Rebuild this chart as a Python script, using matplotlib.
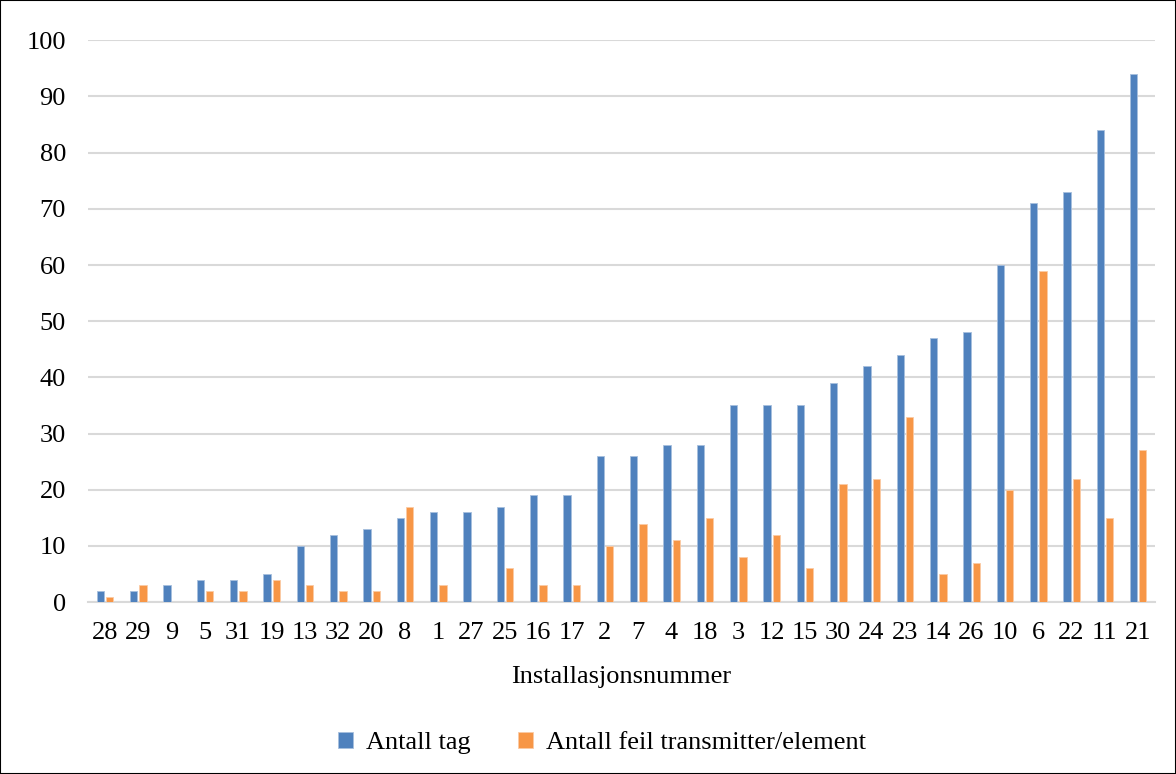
import numpy as np
import matplotlib.pyplot as plt
from matplotlib.patches import Rectangle

plt.rcParams['font.family'] = ['Liberation Serif', 'DejaVu Serif']

installasjoner = ['28', '29', '9', '5', '31', '19', '13', '32', '20', '8', '1', '27', '25', '16',
                  '17', '2', '7', '4', '18', '3', '12', '15', '30', '24', '23', '14', '26', '10',
                  '6', '22', '11', '21']
antall_tag = [2, 2, 3, 4, 4, 5, 10, 12, 13, 15, 16, 16, 17, 19, 19, 26, 26, 28, 28, 35, 35, 35,
              39, 42, 44, 47, 48, 60, 71, 73, 84, 94]
antall_feil = [1, 3, 0, 2, 2, 4, 3, 2, 2, 17, 3, 0, 6, 3, 3, 10, 14, 11, 15, 8, 12, 6, 21, 22,
               33, 5, 7, 20, 59, 22, 15, 27]

blue = '#4F81BD'
orange = '#F79646'
fs = 19

fig = plt.figure(figsize=(11.76, 7.74), dpi=100)
ax = fig.add_axes([0.075, 0.222, 0.907, 0.726])

x = np.arange(len(installasjoner))
w = 0.22
ax.bar(x - 0.14, antall_tag, w, color=blue, edgecolor='#A7BFDE', linewidth=0.6,
       label='Antall tag', zorder=3)
ax.bar(x + 0.14, antall_feil, w, color=orange, edgecolor='#FBCBA5', linewidth=0.6,
       label='Antall feil transmitter/element', zorder=3)

ax.set_xlim(-0.5, len(installasjoner) - 0.5)
ax.set_ylim(0, 100)
ax.set_yticks(np.arange(0, 101, 10))
ax.set_xticks(x)
ax.set_xticklabels(installasjoner)
ax.tick_params(axis='both', length=0, labelsize=fs, colors='black')
ax.tick_params(axis='x', pad=14)
ax.tick_params(axis='y', pad=16)
ax.grid(axis='y', color='#D9D9D9', linewidth=1.5, zorder=0)
for s in ['top', 'right', 'left']:
    ax.spines[s].set_visible(False)
ax.spines['bottom'].set_color('#D9D9D9')
ax.spines['bottom'].set_linewidth(1.5)

ax.set_xlabel('Installasjonsnummer', fontsize=fs, labelpad=16)

fig.legend(loc='center', bbox_to_anchor=(0.512, 0.04), ncol=2, frameon=False,
           fontsize=fs, handlelength=0.55, handleheight=0.55, columnspacing=1.8,
           handletextpad=0.5)

fig.patches.append(Rectangle((0, 0), 1, 1, transform=fig.transFigure, fill=False,
                             edgecolor='black', linewidth=1.5))

fig.savefig('out.png', dpi=100)
